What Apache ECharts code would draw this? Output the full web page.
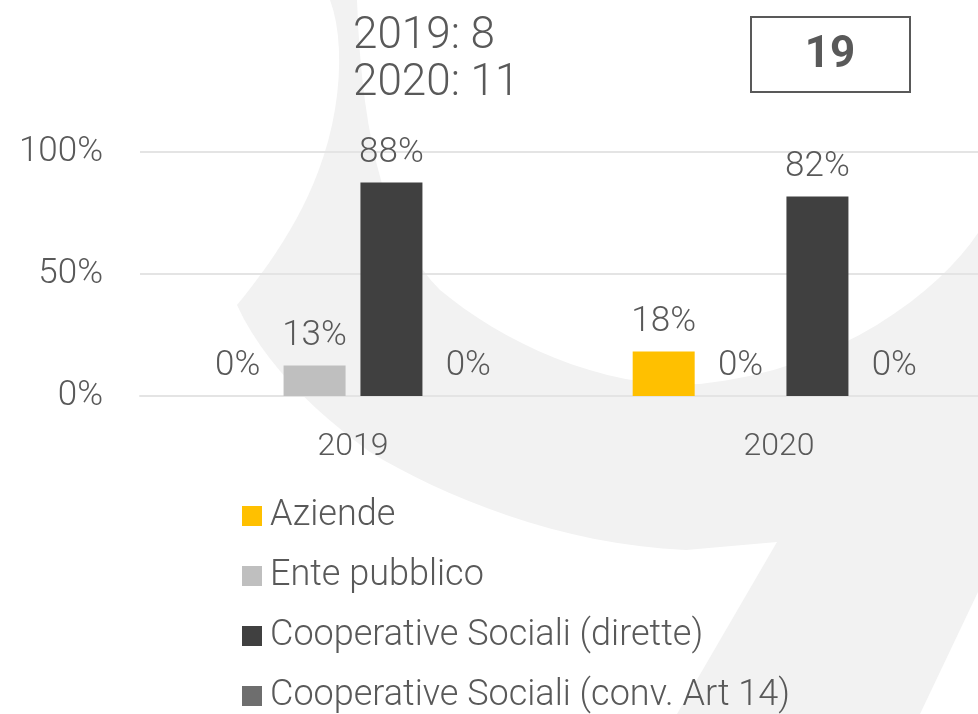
<!DOCTYPE html>
<html>
<head>
<meta charset="utf-8">
<script src="https://cdn.jsdelivr.net/npm/echarts@6/dist/echarts.min.js"></script>
<style>
  html, body { margin: 0; padding: 0; background: #fff; }
  #chart { width: 978px; height: 714px; }
</style>
</head>
<body>
<div id="chart"></div>
<script>
// dati
var anni = ["2019", "2020"];
var seriesNames = ["Aziende", "Ente pubblico", "Cooperative Sociali (dirette)", "Cooperative Sociali (conv. Art 14)"];
var aziende = [0, 18.2];
var entePubblico = [12.5, 0];
var coopDirette = [87.5, 81.8];
var coopConv = [0, 0];
var yTicks = [0, 50, 100];
var titoloRighe = ["2019: 8", "2020: 11"];
var totale = "19";

var colori = ["#FFC000", "#BFBFBF", "#404040", "#6E6E6E"];
var testo = "#595959";
var font = "Roboto";

var chart = echarts.init(document.getElementById("chart"));

function barSerie(name, data, color) {
  return {
    name: name,
    type: "bar",
    data: data,
    barWidth: 62,
    barGap: "24%",
    itemStyle: { color: color },
    label: {
      show: true,
      position: "top",
      distance: 12,
      color: testo,
      fontSize: 35,
      fontWeight: 300,
      fontFamily: font,
      formatter: function (p) { return Math.round(p.value) + "%"; }
    }
  };
}

// sfondo "9" decorativo: segmenti cubici campionati in punti
function cubic(p0, p1, p2, p3, n) {
  var out = [];
  for (var i = 1; i <= n; i++) {
    var t = i / n, u = 1 - t;
    out.push([
      u * u * u * p0[0] + 3 * u * u * t * p1[0] + 3 * u * t * t * p2[0] + t * t * t * p3[0],
      u * u * u * p0[1] + 3 * u * u * t * p1[1] + 3 * u * t * t * p2[1] + t * t * t * p3[1]
    ]);
  }
  return out;
}
var nove = [[330, 0]]
  .concat(cubic([330, 0], [345, 40], [342, 110], [318, 172], 12))
  .concat(cubic([318, 172], [300, 220], [270, 265], [237, 305], 12))
  .concat(cubic([237, 305], [262, 360], [312, 410], [370, 452], 12))
  .concat(cubic([370, 452], [440, 495], [560, 545], [686, 550], 16))
  .concat([[777, 542], [677, 714], [920, 714], [978, 592], [978, 233]])
  .concat(cubic([978, 233], [940, 290], [840, 370], [700, 384], 16))
  .concat(cubic([700, 384], [600, 390], [500, 340], [440, 290], 16))
  .concat(cubic([440, 290], [390, 240], [362, 150], [357, 0], 16));

var option = {
  backgroundColor: "#fff",
  animation: false,
  textStyle: { fontFamily: font },
  title: {
    text: titoloRighe.join("\n"),
    left: 353,
    top: 13,
    padding: 0,
    textStyle: { color: testo, fontSize: 44, fontWeight: 300, lineHeight: 47, fontFamily: font }
  },
  graphic: [
    {
      type: "polygon",
      z: -10,
      silent: true,
      shape: { points: nove },
      style: { fill: "#F2F2F2" }
    },
    {
      type: "rect",
      shape: { x: 751, y: 17, width: 159, height: 75 },
      style: { fill: "#fff", stroke: testo, lineWidth: 2 }
    },
    {
      type: "text",
      x: 830,
      y: 56,
      style: {
        text: totale, fill: testo, fontSize: 44, fontWeight: "bold", fontFamily: font,
        align: "center", verticalAlign: "middle"
      }
    }
  ],
  legend: {
    orient: "vertical",
    left: 242,
    top: 498,
    padding: 0,
    height: 216,
    itemWidth: 20,
    itemHeight: 20,
    itemGap: 24,
    icon: "rect",
    data: seriesNames,
    textStyle: { color: testo, fontSize: 36, fontWeight: 300, fontFamily: font, padding: [0, 0, 0, 3] }
  },
  grid: { left: 140, top: 152, right: -14, bottom: 318, outerBoundsMode: "none", containLabel: false },
  xAxis: {
    type: "category",
    data: anni,
    axisLine: { lineStyle: { color: "#E4E4E4", width: 2 } },
    axisTick: { show: false },
    axisLabel: { color: testo, fontSize: 32, fontWeight: 300, fontFamily: font, margin: 35 }
  },
  yAxis: {
    type: "value",
    min: yTicks[0],
    max: yTicks[yTicks.length - 1],
    interval: yTicks[1] - yTicks[0],
    axisLine: { show: false },
    axisTick: { show: false },
    splitLine: { lineStyle: { color: "#E4E4E4", width: 2 } },
    axisLabel: { color: testo, fontSize: 35, fontWeight: 300, fontFamily: font, margin: 37, formatter: "{value}%" }
  },
  series: [
    barSerie(seriesNames[0], aziende, colori[0]),
    barSerie(seriesNames[1], entePubblico, colori[1]),
    barSerie(seriesNames[2], coopDirette, colori[2]),
    barSerie(seriesNames[3], coopConv, colori[3])
  ]
};

chart.setOption(option);
</script>
</body>
</html>
